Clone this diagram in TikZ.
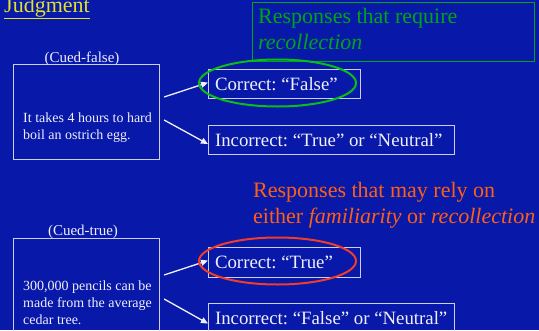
\documentclass[tikz,border=0pt]{standalone}
\usepackage{fontspec}
\setmainfont{Liberation Serif}
\usetikzlibrary{shapes.geometric,arrows.meta,calc}
\frenchspacing
\definecolor{bgblue}{RGB}{8,24,168}
\definecolor{boxline}{RGB}{205,205,240}
\definecolor{txtwhite}{RGB}{240,240,250}
\definecolor{ttlyellow}{RGB}{225,225,40}
\definecolor{recgreen}{RGB}{0,165,20}
\definecolor{ellgreen}{RGB}{10,190,20}
\definecolor{famorange}{RGB}{255,95,20}
\definecolor{ellred}{RGB}{240,60,40}
\tikzset{
  rbox/.style={draw=boxline, line width=1.1pt, text=txtwhite, rectangle, anchor=north west, inner xsep=6.5pt,
    font=\fontsize{18.8}{21}\selectfont\frenchspacing},
  stmtbox/.style={draw=boxline, line width=1.1pt, rectangle, anchor=north west, minimum width=146pt},
  stmt/.style={text=txtwhite, anchor=base west, align=left, inner sep=0pt, font=\fontsize{14}{17}\selectfont},
  cue/.style={text=txtwhite, anchor=base, inner sep=0pt, font=\fontsize{15}{17}\selectfont},
  arr/.style={draw=txtwhite, line width=1.3pt, -{Triangle[length=7pt,width=6pt]}},
  ell/.style={ellipse, line width=2pt, minimum width=157pt, minimum height=47pt, inner sep=0pt}
}
\begin{document}
\begin{tikzpicture}[x=1pt,y=-1pt]
\fill[bgblue] (0,0) rectangle (539,330);
\useasboundingbox (0,0) rectangle (539,330);

% title
\node[anchor=base west, inner sep=0pt, text=ttlyellow, font=\fontsize{22}{24}\selectfont] (title) at (4,12) {\underline{Judgment}};

% green box
\node[draw=recgreen, line width=1.1pt, anchor=north west, minimum width=282pt, minimum height=59pt, inner sep=0pt] (gbox) at (252,2) {};
\node[anchor=base west, inner sep=0pt, text=recgreen, font=\fontsize{22}{26}\selectfont\frenchspacing, align=left] (gtext) at (258,49) {Responses that require\\\textit{recollection}};

% orange text
\node[anchor=base west, inner sep=0pt, text=famorange, font=\fontsize{22}{26}\selectfont\frenchspacing, align=left] (otext) at (253,223) {Responses that may rely on\\either \textit{familiarity} or \textit{recollection}};

% cued-false
\node[cue] (cf) at (82,62) {(Cued-false)};
\node[stmtbox, minimum height=95pt] (b1) at (13,64) {};
\node[stmt] (s1) at (23,139) {It takes 4 hours to hard\\boil an ostrich egg.};

\node[rbox, minimum height=29pt] (c1) at (208,69) {\makebox[139pt][l]{Correct: “False”}};
\node[rbox, minimum height=29pt] (i1) at (208,125) {\makebox[233pt][l]{Incorrect: “True” or “Neutral”}};

\coordinate (a1s) at ($(b1.north east)+(4,33)$);
\coordinate (a2s) at ($(b1.north east)+(4,56)$);
\draw[arr] (a1s) -- ([yshift=1.5pt]c1.west);
\draw[arr] (a2s) -- ([yshift=-4pt]i1.west);

\node[ell, draw=ellgreen] (eg) at (277.5,83) {};

% cued-true
\node[cue] (ct) at (83,235) {(Cued-true)};
\node[stmtbox, minimum height=100pt] (b2) at (13,238) {};
\node[stmt] (s2) at (23,324) {300,000 pencils can be\\made from the average\\cedar tree.};

\node[rbox, minimum height=30pt] (c2) at (208,247) {\makebox[139pt][l]{Correct: “True”}};
\node[rbox, minimum height=30pt] (i2) at (208,303) {\makebox[233pt][l]{Incorrect: “False” or “Neutral”}};

\coordinate (a3s) at ($(b2.north east)+(4,37)$);
\coordinate (a4s) at ($(b2.north east)+(4,61)$);
\draw[arr] (a3s) -- ([yshift=2pt]c2.west);
\draw[arr] (a4s) -- ([yshift=-5pt]i2.west);

\node[ell, draw=ellred] (er) at (277.5,261) {};
\end{tikzpicture}
\end{document}
